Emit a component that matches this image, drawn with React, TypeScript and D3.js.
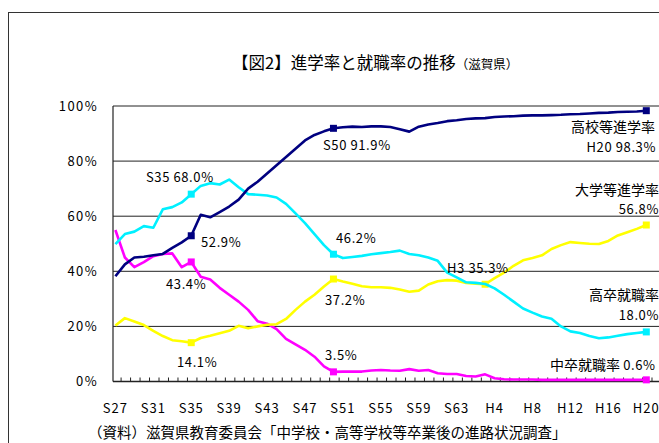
import * as d3 from "d3";

// 昭和27年(1952)〜平成20年(2008)
const years = d3.range(1952, 2009);

const highSchoolRate = [
  38.2, 42.5, 45.0, 45.3, 45.8, 46.3, 48.5, 50.5, 52.9, 60.5,
  59.6, 61.5, 63.5, 66.0, 70.0, 72.5, 75.5, 78.5, 81.5, 84.5,
  87.5, 89.5, 90.8, 91.9, 92.3, 92.5, 92.4, 92.6, 92.6, 92.4,
  91.6, 90.7, 92.5, 93.3, 93.8, 94.5, 94.8, 95.3, 95.5, 95.6,
  96.0, 96.2, 96.3, 96.5, 96.6, 96.6, 96.7, 96.8, 97.0, 97.1,
  97.3, 97.5, 97.6, 97.8, 97.9, 98.0, 98.3,
];

const hsJobRate = [
  49.9, 53.5, 54.4, 56.4, 55.8, 62.5, 63.3, 65.0, 68.0, 71.0,
  72.0, 71.5, 73.3, 70.5, 68.0, 67.8, 67.5, 66.8, 64.5, 61.0,
  57.5, 53.5, 49.5, 46.2, 44.8, 45.2, 45.6, 46.2, 46.6, 47.0,
  47.5, 46.3, 45.8, 45.0, 43.8, 39.5, 37.8, 36.0, 35.8, 35.4,
  33.8, 31.5, 29.0, 26.5, 25.0, 23.6, 22.8, 20.0, 18.2, 17.6,
  16.5, 15.7, 16.0, 16.6, 17.2, 17.6, 18.0,
];

const univRate = [
  20.3, 23.0, 21.8, 20.5, 18.4, 16.5, 15.0, 14.6, 14.1, 15.8,
  16.6, 17.5, 18.4, 20.2, 19.3, 20.0, 20.6, 20.8, 22.7, 26.0,
  29.0, 31.5, 34.5, 37.2, 36.3, 35.5, 34.6, 34.2, 34.2, 34.0,
  33.4, 32.6, 33.0, 35.2, 36.4, 36.8, 36.6, 35.8, 35.5, 35.3,
  37.5, 39.5, 42.0, 44.0, 44.8, 45.8, 48.1, 49.5, 50.6, 50.3,
  50.0, 49.9, 51.0, 53.0, 54.2, 55.4, 56.8,
];

const jhsJobRate = [
  55.0, 45.0, 41.5, 43.3, 45.5, 46.3, 46.5, 41.5, 43.4, 38.0,
  37.0, 34.0, 31.5, 29.0, 26.0, 21.9, 21.0, 19.0, 15.5, 13.5,
  11.5, 9.0, 5.5, 3.5, 3.6, 3.6, 3.6, 4.0, 4.2, 4.0,
  3.9, 4.5, 3.9, 4.2, 3.0, 2.7, 2.7, 2.0, 1.8, 2.6,
  1.2, 0.8, 0.7, 0.7, 0.7, 0.6, 0.6, 0.6, 0.6, 0.6,
  0.6, 0.6, 0.6, 0.6, 0.6, 0.6, 0.6,
];

const yTicks = [0, 20, 40, 60, 80, 100];
const xLabelYears = d3.range(1952, 2009, 4);

const series = [
  { name: "jhs", values: jhsJobRate, color: "#ff00ff", marks: [1960, 1975, 2008] },
  { name: "univ", values: univRate, color: "#ffff00", marks: [1960, 1975, 1991, 2008] },
  { name: "hsjob", values: hsJobRate, color: "#00f0ff", marks: [1960, 1975, 2008] },
  { name: "hs", values: highSchoolRate, color: "#000080", marks: [1960, 1975, 2008] },
];

function eraLabel(y: number): string {
  return y < 1989 ? `S${y - 1925}` : `H${y - 1988}`;
}

const FONT = "'Noto Sans CJK JP', 'Noto Sans', sans-serif";

export default function App() {
  const W = 659;
  const H = 443;
  const x = d3.scaleLinear().domain([1952, 2008]).range([115.4, 646.3]);
  const y = d3.scaleLinear().domain([0, 100]).range([381.5, 106]);
  const plotLeft = 113;
  const plotRight = 670;

  const line = d3
    .line<number>()
    .x((_, i) => x(years[i]))
    .y((d) => y(d));

  const numStyle = { fontSize: 13, letterSpacing: 0.6 } as const;

  return (
    <svg
      width={W}
      height={H}
      style={{ position: "absolute", left: 0, top: 0, background: "#fff" }}
      fontFamily={FONT}
      fontWeight={400}
    >
      <rect x={8.5} y={12.5} width={700} height={500} fill="#fff" stroke="#333" strokeWidth={1} />

      <text x={232} y={69} fontSize={16.5} fill="#000" fontWeight={400}>
        【図2】進学率と就職率の推移
        <tspan fontSize={12.5}>（滋賀県）</tspan>
      </text>

      {/* grid */}
      {yTicks.map((t) => (
        <g key={t}>
          <line x1={plotLeft} x2={plotRight} y1={y(t)} y2={y(t)} stroke="#222" strokeWidth={1} />
          <text x={98} y={y(t)} dy="0.36em" textAnchor="end" fontSize={13} letterSpacing={1.4}>
            {t}%
          </text>
        </g>
      ))}
      <line x1={plotLeft} x2={plotLeft} y1={y(100)} y2={y(0)} stroke="#222" strokeWidth={1.2} />
      <line x1={plotLeft} x2={plotRight} y1={y(0)} y2={y(0)} stroke="#222" strokeWidth={1.5} />
      {years.map((yr) => (
        <line
          key={yr}
          x1={x(yr + 0.6)}
          x2={x(yr + 0.6)}
          y1={y(0)}
          y2={y(0) - 4}
          stroke="#222"
          strokeWidth={1}
        />
      ))}
      {xLabelYears.map((yr) => (
        <text key={yr} x={x(yr)} y={413} textAnchor="middle" fontSize={13} letterSpacing={1}>
          {eraLabel(yr)}
        </text>
      ))}

      {/* series */}
      {series.map((s) => (
        <g key={s.name}>
          <path d={line(s.values) ?? ""} fill="none" stroke={s.color} strokeWidth={2.6} strokeLinejoin="round" />
          {s.marks.map((m) => (
            <rect
              key={m}
              x={x(m) - 3.5}
              y={y(s.values[m - 1952]) - 3.5}
              width={7}
              height={7}
              fill={s.color}
            />
          ))}
        </g>
      ))}

      {/* annotations */}
      <g fill="#000" style={numStyle}>
        <text x={146} y={182}>S35 68.0%</text>
        <text x={201} y={247}>52.9%</text>
        <text x={166} y={289}>43.4%</text>
        <text x={177} y={367}>14.1%</text>
        <text x={323} y={150}>S50 91.9%</text>
        <text x={336} y={243}>46.2%</text>
        <text x={325} y={305}>37.2%</text>
        <text x={325} y={360}>3.5%</text>
        <text x={447} y={273}>H3 35.3%</text>
        <text x={656} y={152} textAnchor="end">H20 98.3%</text>
        <text x={659} y={214} textAnchor="end">56.8%</text>
        <text x={659} y={320} textAnchor="end">18.0%</text>
      </g>
      <g fill="#000" fontSize={14}>
        <text x={655} y={132} textAnchor="end">高校等進学率</text>
        <text x={659} y={195} textAnchor="end">大学等進学率</text>
        <text x={659} y={300} textAnchor="end">高卒就職率</text>
        <text x={550} y={370}>
          中卒就職率 <tspan style={numStyle}>0.6%</tspan>
        </text>
      </g>

      <text x={88} y={438} fontSize={14.5} fill="#000">
        （資料）滋賀県教育委員会「中学校・高等学校等卒業後の進路状況調査」
      </text>
    </svg>
  );
}
